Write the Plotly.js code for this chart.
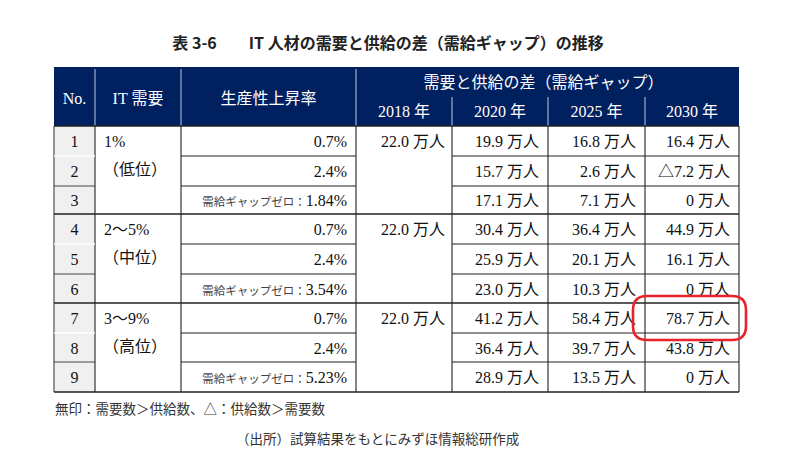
<!DOCTYPE html>
<html><head><meta charset="utf-8">
<script src="https://cdn.plot.ly/plotly-3.0.1.min.js"></script>
<style>html,body{margin:0;padding:0;background:#fff}#chart{width:800px;height:450px}</style>
</head><body><div id="chart"></div>
<script>
// ---- data ----
const rowNumbers = [1, 2, 3, 4, 5, 6, 7, 8, 9];
const itDemand = ["1%", "2～5%", "3～9%"];
const itLevel = ["（低位）", "（中位）", "（高位）"];
const productivityRate = [0.7, 2.4, 1.84, 0.7, 2.4, 3.54, 0.7, 2.4, 5.23];
const zeroGapRow = [false, false, true, false, false, true, false, false, true];
const gap2018 = [22.0, 22.0, 22.0];
const gap2020 = [19.9, 15.7, 17.1, 30.4, 25.9, 23.0, 41.2, 36.4, 28.9];
const gap2025 = [16.8, 2.6, 7.1, 36.4, 20.1, 10.3, 58.4, 39.7, 13.5];
const gap2030 = [16.4, -7.2, 0, 44.9, 16.1, 0, 78.7, 43.8, 0];
const yearLabels = ["2018 年", "2020 年", "2025 年", "2030 年"];
const headerLabels = ["No.", "IT 需要", "生産性上昇率"];
const gapHeader = "需要と供給の差（需給ギャップ）";
const zeroGapLabel = "需給ギャップゼロ：";
const unitLabel = " 万人";
const titleText = "表 3-6　　IT 人材の需要と供給の差（需給ギャップ）の推移";
const noteText = "無印：需要数＞供給数、△：供給数＞需要数";
const sourceText = "（出所）試算結果をもとにみずほ情報総研作成";
const highlight = {row: 6, year: 3};

// ---- layout geometry ----
const colEdges = [54, 95, 181, 356, 452, 548, 645, 739];
const headerTop = 67, headerMid = 97, headerBottom = 126;
const rowEdges = [126, 156, 186, 214, 244, 274, 303, 333, 362, 392];
const groupSize = 3;
const pad = 9;
const textShift = 2;

const serif = "Liberation Serif, 'Noto Sans CJK JP', serif";
const sans = "'Noto Sans CJK JP', 'Noto Sans', sans-serif";
const ink = "#111111";

const rowCenter = i => (rowEdges[i] + rowEdges[i + 1]) / 2 + textShift;
const fmtGap = v => (v < 0 ? "△" : "") + (v === 0 ? "0" : Math.abs(v).toFixed(1)) + unitLabel;
const fmtRate = (v, z) => z
  ? '<span style="font-size:11.5px;color:#444">' + zeroGapLabel + '</span>' + v.toFixed(2) + '%'
  : v.toFixed(1) + '%';

function textTrace(xs, ys, texts, pos, font) {
  return {type: 'scatter', mode: 'text', x: xs, y: ys, text: texts, textposition: pos,
          textfont: font, hoverinfo: 'skip', showlegend: false, cliponaxis: false};
}

const traces = [];
const n = rowNumbers.length;
const idx = rowNumbers.map((_, i) => i);
const bodyFont = {family: serif, size: 16, color: ink};

// No. column
traces.push(textTrace(idx.map(() => (colEdges[0] + colEdges[1]) / 2), idx.map(rowCenter),
  rowNumbers.map(String), 'middle center', bodyFont));
// IT demand
const groups = itDemand.map((_, g) => g);
traces.push(textTrace(groups.map(() => colEdges[1] + 9), groups.map(g => rowCenter(g * groupSize)),
  itDemand, 'middle right', bodyFont));
traces.push(textTrace(groups.map(() => colEdges[1] + 8), groups.map(g => rowCenter(g * groupSize + 1) - 2),
  itLevel, 'middle right', bodyFont));
// productivity
traces.push(textTrace(idx.map(() => colEdges[3] - pad), idx.map(rowCenter),
  productivityRate.map((v, i) => fmtRate(v, zeroGapRow[i])), 'middle left', bodyFont));
// 2018
traces.push(textTrace(groups.map(() => colEdges[4] - 7), groups.map(g => rowCenter(g * groupSize)),
  gap2018.map(fmtGap), 'middle left', bodyFont));
// 2020 / 2025 / 2030
[gap2020, gap2025, gap2030].forEach((arr, k) => {
  traces.push(textTrace(idx.map(() => colEdges[5 + k] - pad), idx.map(rowCenter),
    arr.map(fmtGap), 'middle left', bodyFont));
});
// header texts
const headFont = {family: serif, size: 16, color: '#ffffff'};
const headMidY = (headerTop + headerBottom) / 2 + 3;
traces.push(textTrace([0, 1, 2].map(c => (colEdges[c] + colEdges[c + 1]) / 2), [0, 1, 2].map(() => headMidY),
  headerLabels, 'middle center', headFont));
traces.push(textTrace([(colEdges[3] + colEdges[7]) / 2 - 4], [(headerTop + headerMid) / 2 + 2],
  [gapHeader], 'middle center', headFont));
traces.push(textTrace(yearLabels.map((_, k) => (colEdges[3 + k] + colEdges[4 + k]) / 2),
  yearLabels.map(() => (headerMid + headerBottom) / 2 + 1), yearLabels, 'middle center', headFont));

// ---- shapes ----
const shapes = [];
const L = colEdges[0], R = colEdges[colEdges.length - 1];
const line = (x0, y0, x1, y1, color, w) => shapes.push({type: 'line', xref: 'x', yref: 'y', x0, y0, x1, y1,
  line: {color, width: w}});
shapes.push({type: 'rect', xref: 'x', yref: 'y', x0: L, x1: R, y0: headerTop, y1: headerBottom,
  fillcolor: '#002060', line: {width: 0}, layer: 'below'});
shapes.push({type: 'rect', xref: 'x', yref: 'y', x0: colEdges[0], x1: colEdges[1], y0: rowEdges[0], y1: rowEdges[n],
  fillcolor: '#f0f0f0', line: {width: 0}, layer: 'below'});
// header separators
[1, 2, 3].forEach(c => line(colEdges[c], headerTop + 2, colEdges[c], headerBottom, 'rgba(255,255,255,0.75)', 1));
[4, 5, 6].forEach(c => line(colEdges[c], headerMid, colEdges[c], headerBottom, 'rgba(255,255,255,0.75)', 1));
// body verticals
[1, 2, 3, 4, 5, 6, 7].forEach(c => line(colEdges[c], rowEdges[0], colEdges[c], rowEdges[n], '#333', 1.2));
line(L, rowEdges[0], L, rowEdges[n], '#888', 1.8);
// horizontals
for (let i = 0; i <= n; i++) {
  const y = rowEdges[i];
  if (i % groupSize === 0) {
    line(L, y, R, y, '#222', 1.3);
  } else {
    line(colEdges[2], y, colEdges[3], y, '#222', 1.2);
    line(colEdges[4], y, R, y, '#222', 1.2);
    if (i % groupSize === 2) line(L, y, colEdges[1], y, '#444', 1.2);
    else line(L, y, colEdges[1], y, '#ffffff', 1.5);
  }
}
// highlight
const hx0 = colEdges[3 + highlight.year] - 12, hx1 = colEdges[4 + highlight.year] + 7;
const hy0 = rowEdges[highlight.row] - 7, hy1 = rowEdges[highlight.row + 1] + 7;
const rr = 14;
shapes.push({type: 'path', xref: 'x', yref: 'y', line: {color: '#e8232b', width: 2.6},
  path: `M ${hx0 + rr} ${hy0} L ${hx1 - rr} ${hy0} Q ${hx1} ${hy0} ${hx1} ${hy0 + rr} L ${hx1} ${hy1 - rr} Q ${hx1} ${hy1} ${hx1 - rr} ${hy1} L ${hx0 + rr} ${hy1} Q ${hx0} ${hy1} ${hx0} ${hy1 - rr} L ${hx0} ${hy0 + rr} Q ${hx0} ${hy0} ${hx0 + rr} ${hy0} Z`});

const layout = {
  width: 800, height: 450,
  margin: {l: 0, r: 0, t: 0, b: 0},
  paper_bgcolor: '#ffffff', plot_bgcolor: '#ffffff',
  xaxis: {range: [0, 800], visible: false, fixedrange: true},
  yaxis: {range: [450, 0], visible: false, fixedrange: true},
  showlegend: false,
  title: {text: '<b>' + titleText + '</b>', x: 388 / 800, xanchor: 'center', y: 1 - 43 / 450, yanchor: 'middle',
          font: {family: sans, size: 16, color: '#222'}},
  shapes: shapes,
  annotations: [
    {xref: 'x', yref: 'y', x: 53, y: 408, xanchor: 'left', yanchor: 'middle', showarrow: false,
     text: noteText, font: {family: sans, size: 13.5, color: '#333'}},
    {xref: 'x', yref: 'y', x: 234, y: 438, xanchor: 'left', yanchor: 'middle', showarrow: false,
     text: sourceText, font: {family: sans, size: 13.5, color: '#333'}}
  ]
};
Plotly.newPlot('chart', traces, layout, {displayModeBar: false, staticPlot: true});
</script>
</body></html>
